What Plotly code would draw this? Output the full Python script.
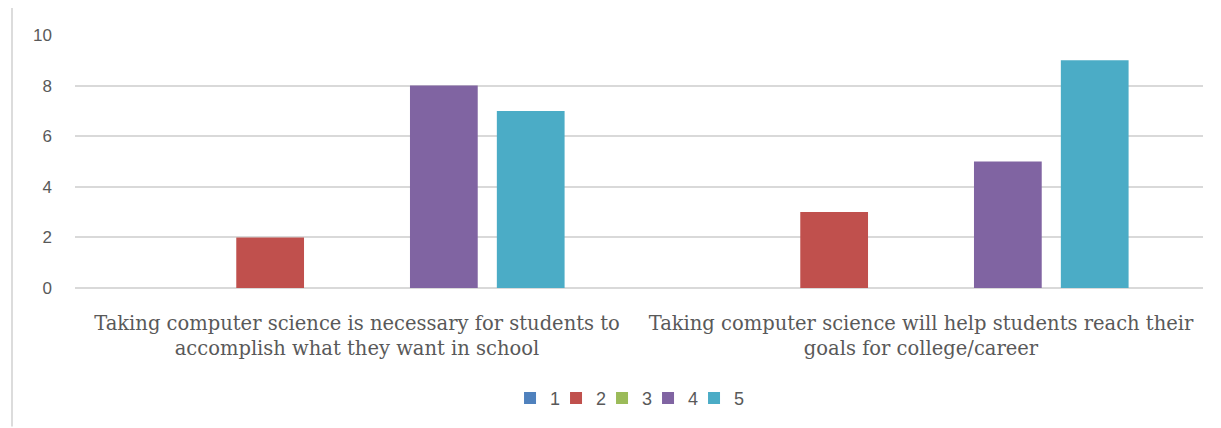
import plotly.graph_objects as go

categories = [
    "Taking computer science is necessary for students to<br>accomplish what they want in school",
    "Taking computer science will help students reach their<br>goals for college/career",
]
series_names = ["1", "2", "3", "4", "5"]
values = {
    "1": [0, 0],
    "2": [2, 3],
    "3": [0, 0],
    "4": [8, 5],
    "5": [7, 9],
}
colors = {
    "1": "#4F81BD",
    "2": "#C0504D",
    "3": "#9BBB59",
    "4": "#8064A2",
    "5": "#4BACC6",
}
y_ticks = [0, 2, 4, 6, 8, 10]

fig = go.Figure()
for name in series_names:
    fig.add_trace(go.Bar(
        x=categories, y=values[name], name=name,
        marker=dict(color=colors[name], line=dict(width=0)),
    ))
# invisible spacer legend entry so the last legend label is not clipped
fig.add_trace(go.Scatter(x=[None], y=[None], mode="markers", name=" ",
                         marker=dict(color="rgba(0,0,0,0)"), hoverinfo="skip"))

fig.update_layout(
    width=1221, height=428,
    margin=dict(l=75, r=18, t=35, b=139),
    paper_bgcolor="white", plot_bgcolor="white",
    barmode="group", bargap=0.23, bargroupgap=0.22,
    showlegend=True,
    legend=dict(orientation="h", x=0.508, xanchor="center", y=-0.43, yanchor="middle",
                font=dict(family="Liberation Sans", size=18, color="#595959"),
                itemwidth=30, entrywidth=1, entrywidthmode="pixels", traceorder="normal"),
    xaxis=dict(showgrid=False, showline=False, ticks="", ticklabelstandoff=21,
               tickfont=dict(family="DejaVu Serif", size=19.5, color="#595959")),
    yaxis=dict(range=[0, 10], tickvals=y_ticks, showgrid=True, gridcolor="#D9D9D9",
               gridwidth=1.5, zeroline=True, zerolinecolor="#D9D9D9", zerolinewidth=1.5,
               showline=False, ticks="", ticklabelstandoff=22,
               tickfont=dict(family="Liberation Sans", size=17, color="#595959")),
)
fig.add_shape(type="line", xref="paper", yref="paper",
              x0=(12 - 75) / 1128, x1=(12 - 75) / 1128, y0=(289 - 8) / 254, y1=(289 - 428) / 254,
              line=dict(color="#D0D0D0", width=1.5))
fig.write_html("out.html")
